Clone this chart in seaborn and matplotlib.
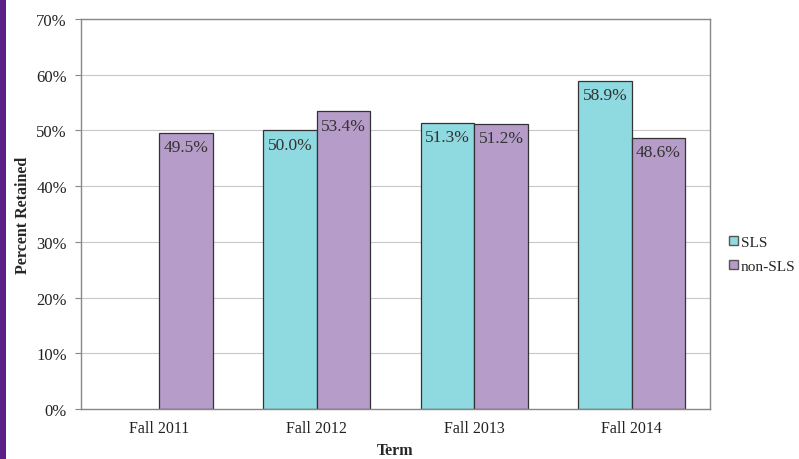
import matplotlib
matplotlib.use("Agg")
import matplotlib.pyplot as plt
import seaborn as sns
import pandas as pd
import numpy as np
from matplotlib.patches import Patch, Rectangle

terms = ["Fall 2011", "Fall 2012", "Fall 2013", "Fall 2014"]
sls = [np.nan, 50.0, 51.3, 58.9]
non_sls = [49.5, 53.4, 51.2, 48.6]
groups = ["SLS", "non-SLS"]
colors = {"SLS": "#8FD9E0", "non-SLS": "#B69CC9"}

df = pd.DataFrame({
    "Term": terms * 2,
    "Group": ["SLS"] * 4 + ["non-SLS"] * 4,
    "Value": sls + non_sls,
})

sns.set_style("white")
plt.rcParams["font.family"] = ["Liberation Serif", "DejaVu Serif"]

fig = plt.figure(figsize=(7.99, 4.60), dpi=100)
ax = fig.add_axes([0.101, 0.1087, 0.788, 0.8478])

sns.barplot(data=df, x="Term", y="Value", hue="Group", order=terms,
            hue_order=groups, palette=colors, width=0.68, edgecolor="#333333",
            linewidth=0.9, ax=ax, legend=False, errorbar=None, saturation=1)

ax.set_ylim(0, 70)
ax.set_xlim(-0.5, 3.5)
ax.set_yticks(range(0, 71, 10))
ax.set_yticklabels([f"{v}%" for v in range(0, 71, 10)], fontsize=12, color="#222222")
ax.yaxis.grid(True, color="#c8c8c8", linewidth=0.8)
ax.set_axisbelow(True)
ax.tick_params(axis="y", length=4, color="#888888", left=True, pad=6)
ax.tick_params(axis="x", length=0, labelsize=11.5, pad=8, labelcolor="#222222")
for s in ax.spines.values():
    s.set_color("#888888")
    s.set_linewidth(1.0)

ax.set_ylabel("Percent Retained", fontsize=11.5, fontweight="bold", labelpad=4)
ax.set_xlabel("Term", fontsize=11.5, fontweight="bold", labelpad=4)

for cont in ax.containers:
    labels = [("" if np.isnan(v) else f"{v:.1f}%") for v in cont.datavalues]
    ax.bar_label(cont, labels=labels, padding=-16, fontsize=12.5, color="#333333")

handles = [Patch(facecolor=colors[g], edgecolor="#555555", label=g) for g in groups]
fig.legend(handles=handles, loc="center left", bbox_to_anchor=(0.905, 0.445),
           frameon=False, fontsize=11, handlelength=0.6, handleheight=0.6,
           handletextpad=0.15, labelspacing=0.7, borderaxespad=0)

fig.add_artist(Rectangle((0, 0), 0.007, 1, transform=fig.transFigure,
                         facecolor="#5B1F88", edgecolor="none"))

fig.savefig("out.png", dpi=100)
